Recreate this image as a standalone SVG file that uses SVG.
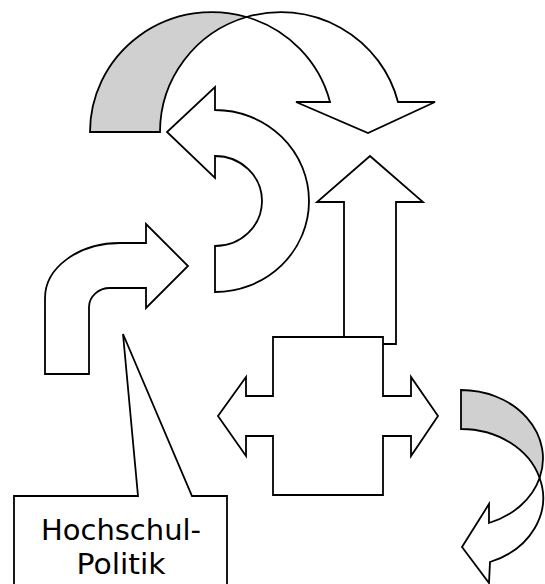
<svg xmlns="http://www.w3.org/2000/svg" width="545" height="584" viewBox="0 0 545 584">
<style>
.s{fill:#fff;stroke:#000;stroke-width:1.8;stroke-linejoin:miter}
.g{fill:#d0d0d0;stroke:#000;stroke-width:1.8}
.t{font-family:"DejaVu Sans","Liberation Sans",sans-serif;font-size:29px;fill:#000;text-anchor:middle}
</style>
<rect width="545" height="584" fill="#fff"/>
<g id="top-curved-arrow">
<path class="g" d="M90,132 A122,120 0 0 1 246.6,17 A121,120 0 0 0 160,132 Z"/>
<path class="s" d="M246.6,17 A122,120 0 0 1 330,102 L296,102 L368,133 L435,102 L398,102 A121,120 0 0 0 246.6,17 Z"/>
</g>
<g id="circular-arrow">
<path class="s" d="M215,110 A94,91 0 0 1 215,292 L215,246 A47,45 0 0 0 215,156 L215,178 L167,132 L215,87 Z"/>
</g>
<g id="bent-arrow">
<path class="s" d="M45,374 L45,298 A75,55 0 0 1 120,243 L146,243 L146,224 L188,266 L146,308 L146,288 L110,288 A21,19 0 0 0 89,307 L89,374 Z"/>
</g>
<g id="up-arrow">
<path class="s" d="M344,344 L344,202 L317,202 L370,156 L423,202 L396,202 L396,344 Z"/>
</g>
<g id="cross-arrow">
<path class="s" d="M273,337 L383,337 L383,396 L411,396 L411,377 L438,416 L411,456 L411,436 L383,436 L383,495 L273,495 L273,436 L246,436 L246,456 L218,416 L246,377 L246,396 L273,396 Z"/>
</g>
<g id="right-curved-arrow">
<path class="g" d="M461,390 A82,68.5 0 0 1 539.6,478 A82,68.5 0 0 0 461,429 Z"/>
<path class="s" d="M539.6,478 A82,68.5 0 0 1 489,523 L489,504 L462,547 L489,583 L490,562 A82,68.5 0 0 0 539.6,478 Z"/>
</g>
<g id="callout">
<path class="s" d="M14,496 L138,496 L123,334 L192,496 L227,496 L227,592 L14,592 Z"/>
<text class="t" x="121" y="540" textLength="160" lengthAdjust="spacingAndGlyphs">Hochschul-</text>
<text class="t" x="121" y="574" textLength="89" lengthAdjust="spacingAndGlyphs">Politik</text>
</g>
</svg>
